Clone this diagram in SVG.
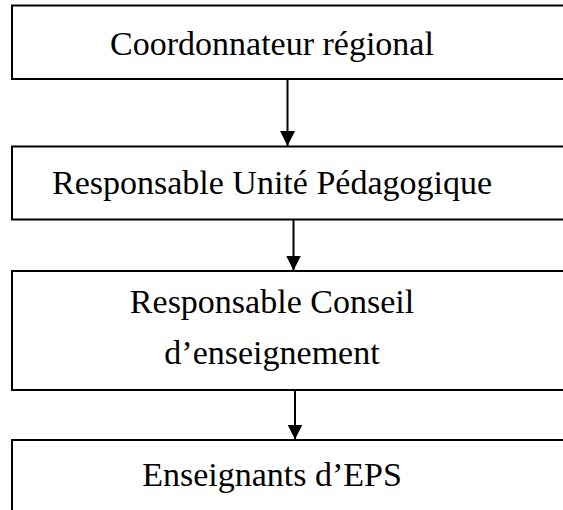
<svg xmlns="http://www.w3.org/2000/svg" width="563" height="510" viewBox="0 0 563 510">
  <style>
    .box { fill: #ffffff; stroke: #000000; stroke-width: 2; }
    .lbl { font-family: "Liberation Serif", "Times New Roman", serif; font-size: 34px; fill: #000000; text-anchor: middle; }
    .conn { stroke: #000000; stroke-width: 2; fill: none; marker-end: url(#arrow); }
  </style>
  <defs>
    <marker id="arrow" markerUnits="userSpaceOnUse" markerWidth="15" markerHeight="15" refX="15" refY="7.5" orient="auto">
      <path d="M0,0 L15,7.5 L0,15 z" fill="#000000"/>
    </marker>
  </defs>
  <rect width="563" height="510" fill="#ffffff"/>
  <g id="node-coordonnateur">
    <rect class="box" x="12" y="5.5" width="570" height="73.5"/>
    <text class="lbl" x="272" y="55">Coordonnateur régional</text>
  </g>
  <g id="node-responsable-unite">
    <rect class="box" x="12" y="146.5" width="570" height="73"/>
    <text class="lbl" x="272" y="194">Responsable Unité Pédagogique</text>
  </g>
  <g id="node-responsable-conseil">
    <rect class="box" x="12" y="271" width="570" height="119"/>
    <text class="lbl" x="272" y="313">Responsable Conseil</text>
    <text class="lbl" x="272" y="364">d’enseignement</text>
  </g>
  <g id="node-enseignants">
    <rect class="box" x="12" y="440" width="570" height="90"/>
    <text class="lbl" x="272" y="486">Enseignants d’EPS</text>
  </g>
  <g id="connectors">
    <line class="conn" x1="287.5" y1="79" x2="287.5" y2="146"/>
    <line class="conn" x1="293.5" y1="219.5" x2="293.5" y2="270.5"/>
    <line class="conn" x1="295" y1="390" x2="295" y2="439.5"/>
  </g>
</svg>
